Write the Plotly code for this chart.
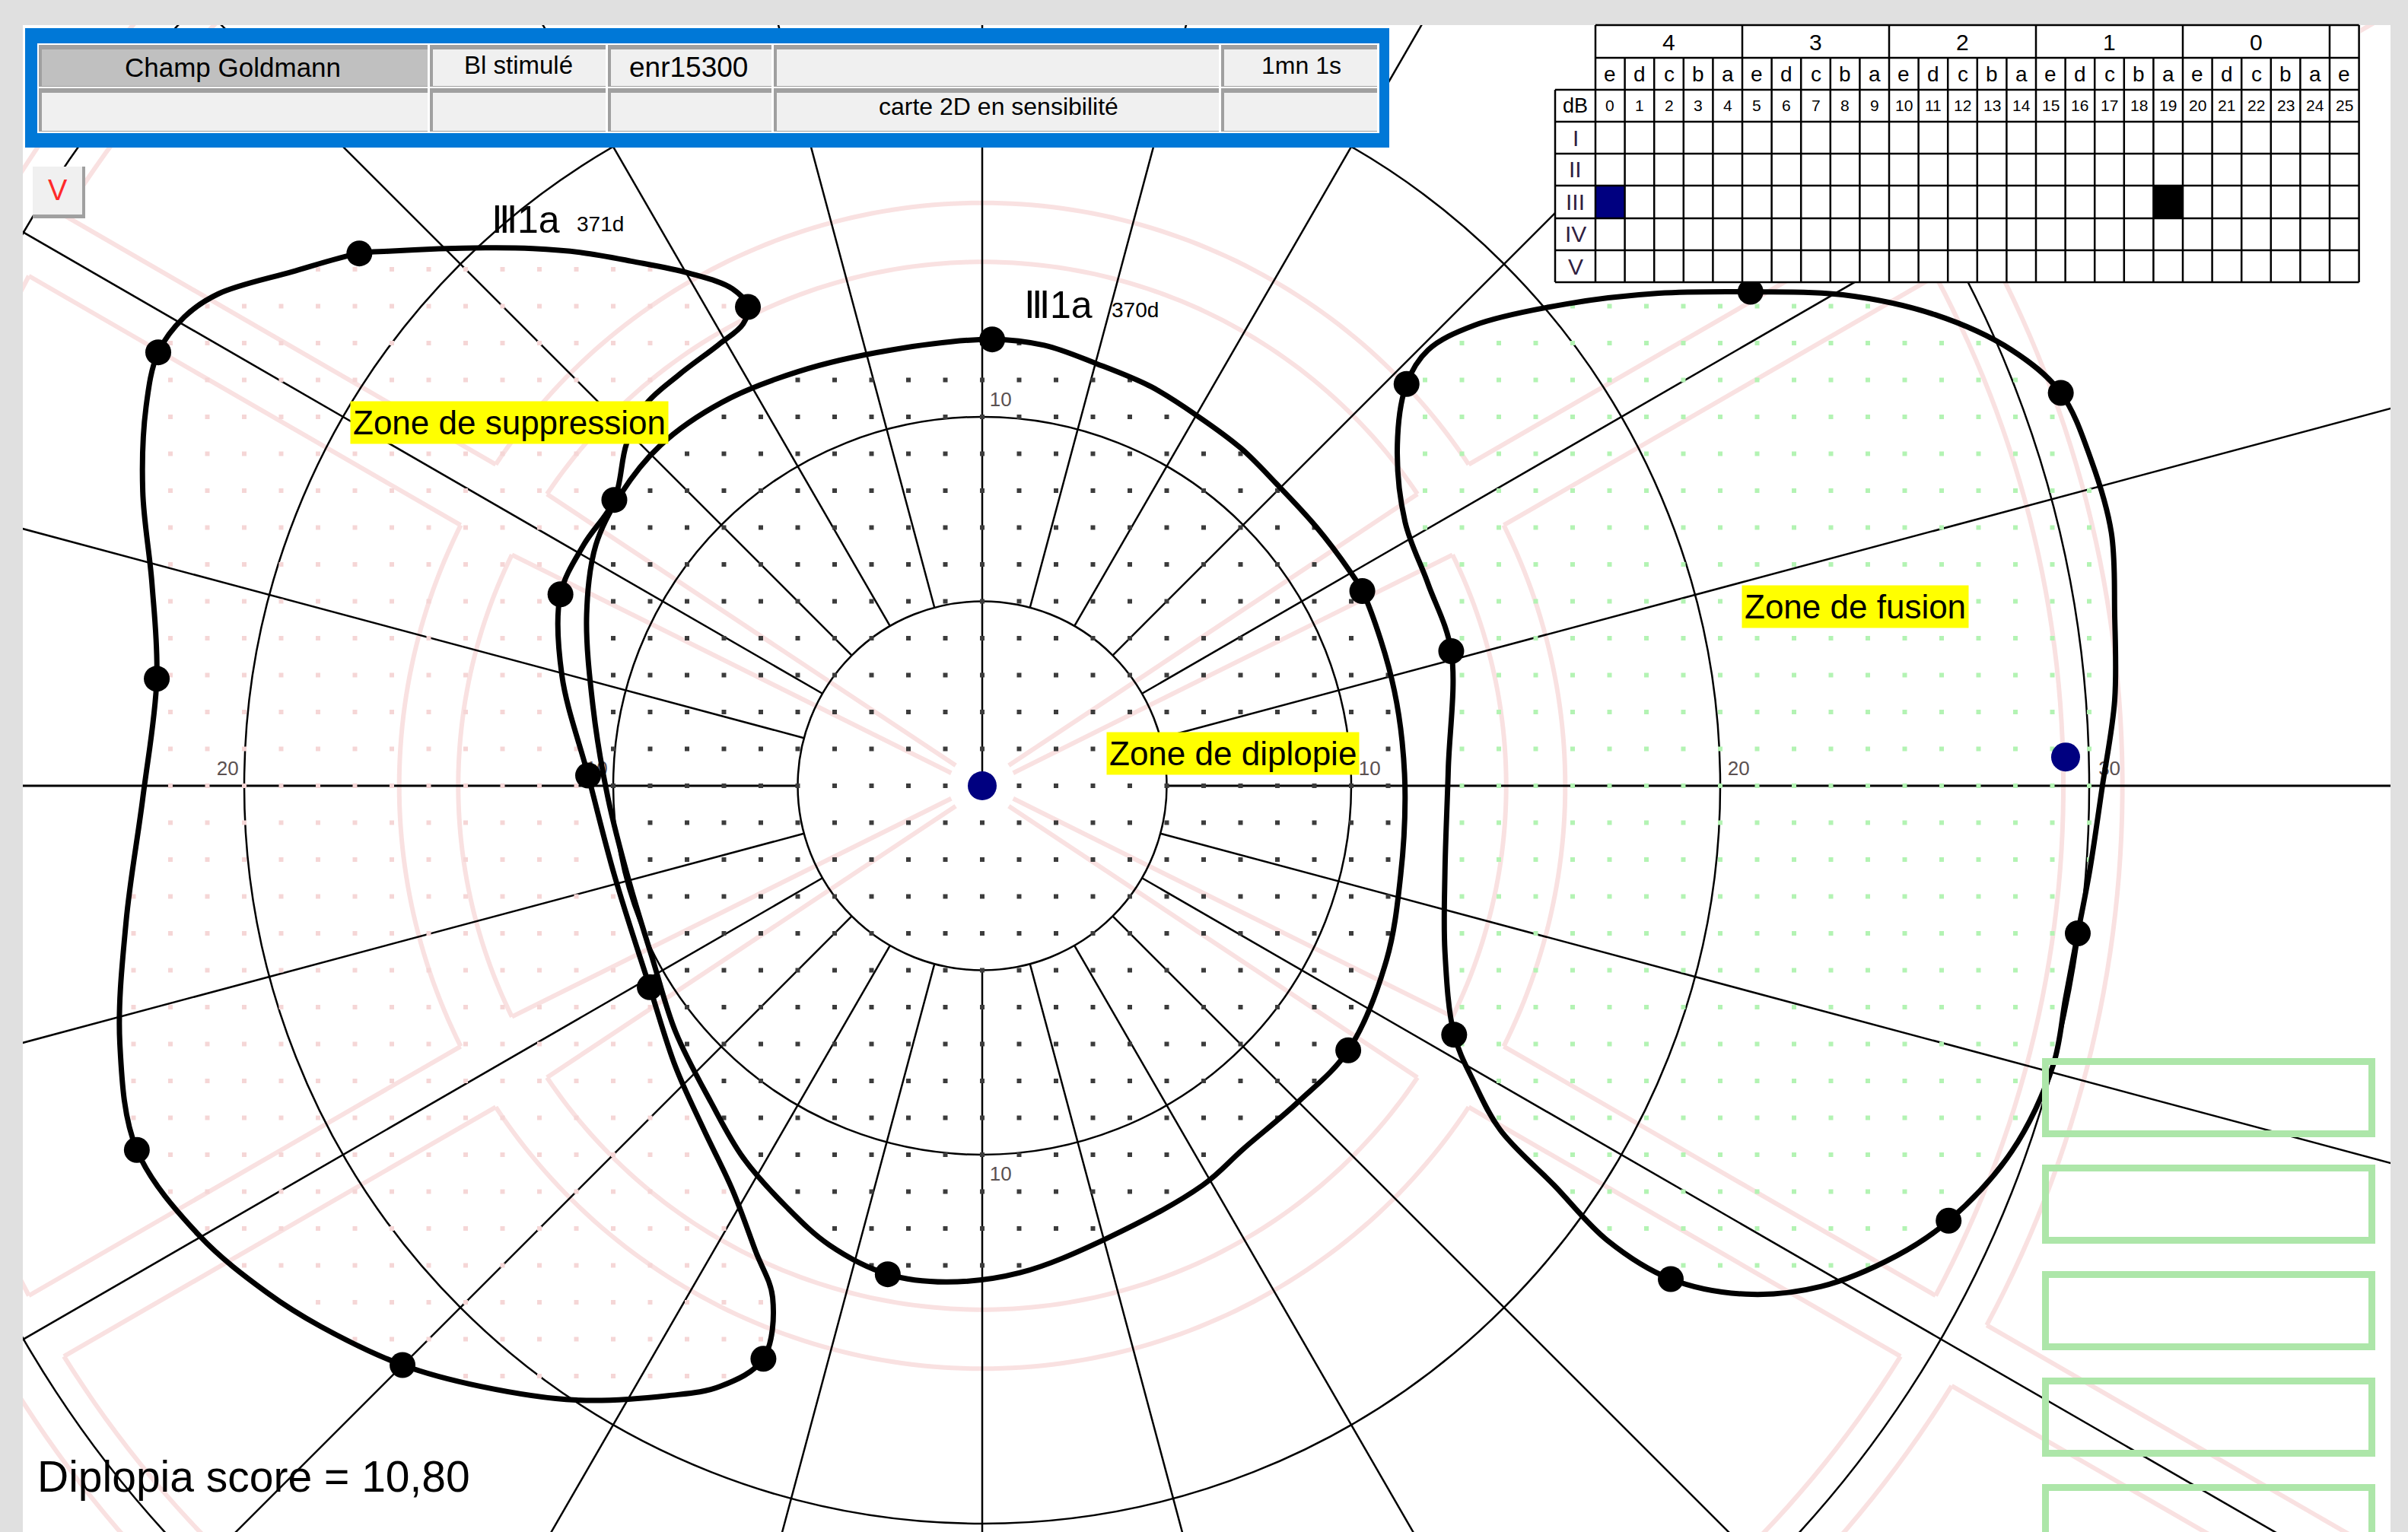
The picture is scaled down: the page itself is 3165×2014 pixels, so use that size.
import numpy as np
import plotly.graph_objects as go

# ---------------------------------------------------------------------------
# Page geometry (pixels) and chart scale
# ---------------------------------------------------------------------------
FIG_W, FIG_H = 3165, 2014
PLOT_L, PLOT_T, PLOT_R, PLOT_B = 30, 33, 3142, 2014
FIX_X, FIX_Y = 1291, 1033          # fixation point on the page
PX_PER_DEG = 48.5
FONT = "Liberation Sans, Arial, sans-serif"

# ---------------------------------------------------------------------------
# Data (degrees of eccentricity, x = horizontal, y = vertical)
# ---------------------------------------------------------------------------
# Isopter III1a 370d - zone de diplopie: traced outline
diplo_x = [0.27, 1.68, 3.10, 4.59, 5.84, 7.01, 7.97, 9.05, 9.96, 10.30, 10.80, 11.17, 11.38,
           11.46, 11.34, 10.96, 9.92, 8.55, 7.09, 5.97, 3.35, 1.02, -0.98, -2.56, -4.14,
           -5.31, -6.48, -7.35, -8.31, -8.93, -9.56, -10.14, -10.55, -10.72, -10.47, -9.80,
           -8.72, -7.06, -4.98, -2.48]
diplo_y = [12.10, 11.94, 11.44, 10.81, 10.02, 9.15, 8.19, 7.02, 5.82, 5.28, 3.95, 2.57, 1.20,
           -0.34, -2.42, -4.71, -7.17, -8.58, -9.83, -10.83, -12.28, -13.20, -13.45, -13.24,
           -12.45, -11.41, -10.08, -8.58, -6.67, -4.71, -2.63, -0.34, 2.16, 4.65, 6.53, 7.90,
           9.23, 10.39, 11.23, 11.81]
# measured points of the 370d isopter
diplo_pts_x = [0.27, 10.30, 9.92, -2.56]
diplo_pts_y = [12.10, 5.28, -7.17, -13.24]

# Isopter III1a 371d - zone de suppression: traced outline
supp_x = [-16.88, -16.09, -13.47, -12.18, -10.84, -9.51, -7.93, -6.77, -6.35, -6.48, -7.14,
          -8.22, -9.14, -9.64, -9.97, -10.80, -11.43, -11.39, -10.68, -9.97, -9.01, -8.31,
          -7.56, -6.77, -6.14, -5.68, -5.93, -7.10, -8.51, -11.01, -13.59, -15.71, -17.92,
          -19.38, -21.21, -22.91, -23.37, -23.20, -22.75, -22.37, -22.50, -22.75, -22.66,
          -22.33, -21.62, -20.71, -18.71]
supp_y = [14.43, 14.49, 14.58, 14.56, 14.45, 14.22, 13.89, 13.47, 12.98, 12.52, 11.96,
          11.14, 10.31, 9.27, 7.75, 6.53, 5.19, 2.99, 0.28, -2.42, -5.46, -7.62, -9.29,
          -10.95, -12.62, -13.87, -15.53, -16.28, -16.53, -16.65, -16.28, -15.70, -14.66,
          -13.74, -12.20, -9.87, -7.00, -3.67, -0.34, 2.90, 5.48, 7.98, 10.27, 11.75, 12.71,
          13.33, 13.93]
supp_pts_x = [-16.88, -6.35, -9.97, -11.43, -10.68, -9.01, -5.93, -15.71, -22.91, -22.37, -22.33]
supp_pts_y = [14.43, 12.98, 7.75, 5.19, 0.28, -5.46, -15.53, -15.70, -9.87, 2.90, 11.75]

# Zone de fusion: traced outline
fus_x = [11.50, 12.08, 13.33, 15.83, 18.33, 20.82, 23.32, 25.82, 27.90, 29.23, 30.06, 30.60,
         30.69, 30.69, 30.35, 30.02, 29.69, 29.36, 29.02, 27.90, 26.19, 24.78, 22.74, 20.70,
         18.66, 16.95, 15.50, 14.04, 13.33, 12.79, 12.54, 12.54, 12.63, 12.71, 12.08, 11.46,
         11.25]
fus_y = [10.89, 11.81, 12.48, 13.06, 13.35, 13.39, 13.31, 12.77, 11.81, 10.65, 8.81, 6.86,
         4.65, 2.32, -0.05, -2.26, -4.00, -5.75, -7.58, -9.91, -11.79, -12.74, -13.57, -13.78,
         -13.37, -12.33, -10.83, -9.33, -8.04, -6.75, -4.50, -2.34, 0.45, 3.65, 5.48, 7.15,
         9.23]
fus_pts_x = [11.50, 20.82, 29.23, 29.69, 26.19, 18.66, 12.79, 12.71]
fus_pts_y = [10.89, 13.39, 10.65, -4.00, -11.79, -13.37, -6.75, 3.65]

# fixation targets
fix_x = [0.0, 29.36]
fix_y = [0.0, 0.78]

# polar grid
ring_deg = [5, 10, 20, 30]
meridian_step = 15

# background road pattern (pink)
pink_ring_roads = [(14.2, 15.8), (29.3, 30.9)]
pink_radial_deg = [30, 150, 210, 330]
pink_half_width = 0.95

# zone labels (centre, degrees)
zone_text = ["Zone de suppression", "Zone de diplopie", "Zone de fusion"]
zone_x = [-12.82, 6.80, 23.65]
zone_y = [9.84, 0.88, 4.86]

# stimulus table
table_groups = ["4", "3", "2", "1", "0"]
table_letters = list("edcbaedcbaedcbaedcbaedcbae")
table_db = [str(i) for i in range(26)]
table_rows = ["I", "II", "III", "IV", "V"]

header_row1 = ["Champ Goldmann", "Bl stimulé", "enr15300", "", "1mn 1s"]
header_row2 = ["", "", "", "carte 2D en sensibilité", ""]
score_text = "Diplopia score = 10,80"

# ---------------------------------------------------------------------------
# Helpers
# ---------------------------------------------------------------------------
x_range = [(PLOT_L - FIX_X) / PX_PER_DEG, (PLOT_R - FIX_X) / PX_PER_DEG]
y_range = [(FIX_Y - PLOT_B) / PX_PER_DEG, (FIX_Y - PLOT_T) / PX_PER_DEG]


def pxp(x):
    return (x - PLOT_L) / (PLOT_R - PLOT_L)


def pyp(y):
    return 1 - (y - PLOT_T) / (PLOT_B - PLOT_T)


def inside(px, py, vx, vy):
    vx = np.asarray(vx, float)
    vy = np.asarray(vy, float)
    res = np.zeros(px.shape, bool)
    j = len(vx) - 1
    for i in range(len(vx)):
        xi, yi, xj, yj = vx[i], vy[i], vx[j], vy[j]
        crosses = (yi > py) != (yj > py)
        xcross = (xj - xi) * (py - yi) / ((yj - yi) if yj != yi else 1e-12) + xi
        res ^= crosses & (px < xcross)
        j = i
    return res


shapes = []
annotations = []


def rect(x0, y0, x1, y1, fill, layer="above", line_color=None, width=0):
    shapes.append(dict(type="rect", xref="paper", yref="paper",
                       x0=pxp(x0), x1=pxp(x1), y0=pyp(y1), y1=pyp(y0),
                       fillcolor=fill, layer=layer,
                       line=dict(width=width, color=line_color or fill)))


def pline(x0, y0, x1, y1, color="black", width=2.5):
    shapes.append(dict(type="line", xref="paper", yref="paper",
                       x0=pxp(x0), x1=pxp(x1), y0=pyp(y0), y1=pyp(y1),
                       layer="above", line=dict(color=color, width=width)))


def ptext(x, y, s, size, color="black", xanchor="center", family=FONT):
    annotations.append(dict(xref="paper", yref="paper", x=pxp(x), y=pyp(y), text=s,
                            showarrow=False, xanchor=xanchor, yanchor="middle",
                            font=dict(size=size, color=color, family=family)))


def data_path(xs, ys, color, width):
    d = "M " + " L ".join(f"{x:.4f},{y:.4f}" for x, y in zip(xs, ys))
    shapes.append(dict(type="path", xref="x", yref="y", path=d, layer="below",
                       line=dict(color=color, width=width)))


# ---------------------------------------------------------------------------
# Background pattern (pink double-lined roads) and polar grid
# ---------------------------------------------------------------------------
PINK = "#f9e1e1"
w = pink_half_width
ring_edges = sorted(r for road in pink_ring_roads for r in road)

# radial roads: two parallel lines, interrupted where they cross the ring roads
for a in pink_radial_deg:
    t = np.radians(a)
    u = np.array([np.cos(t), np.sin(t)])
    n = np.array([-np.sin(t), np.cos(t)])
    for s in (-1, 1):
        cuts = [np.sqrt(r * r - w * w) for r in ring_edges]
        # inner part narrows towards the fixation point
        p0 = 0.9 * u + s * 0.12 * n
        p1 = cuts[0] * u + s * w * n
        data_path([p0[0], p1[0]], [p0[1], p1[1]], PINK, 6)
        spans = [(cuts[1], cuts[2]), (cuts[3], 60.0)]
        for t0, t1 in spans:
            q0 = t0 * u + s * w * n
            q1 = t1 * u + s * w * n
            data_path([q0[0], q1[0]], [q0[1], q1[1]], PINK, 6)

# ring roads: circles broken at each radial road
angs = sorted(pink_radial_deg)
for r in ring_edges:
    d = np.degrees(np.arcsin(w / r))
    for k in range(len(angs)):
        a0 = angs[k] + d
        a1 = angs[(k + 1) % len(angs)] - d
        if a1 < a0:
            a1 += 360
        th = np.radians(np.linspace(a0, a1, int(a1 - a0) + 2))
        data_path(r * np.cos(th), r * np.sin(th), PINK, 6)

for r in ring_deg:
    shapes.append(dict(type="circle", xref="x", yref="y", x0=-r, y0=-r, x1=r, y1=r,
                       layer="below", line=dict(color="black", width=2.5)))
for a in range(0, 360, meridian_step):
    t = np.radians(a)
    r0 = 0 if a == 90 else ring_deg[0]
    shapes.append(dict(type="line", xref="x", yref="y",
                       x0=r0 * np.cos(t), y0=r0 * np.sin(t),
                       x1=60 * np.cos(t), y1=60 * np.sin(t),
                       layer="below",
                       line=dict(color="black", width=3 if a in (0, 180) else 2.5)))

# ---------------------------------------------------------------------------
# Traces
# ---------------------------------------------------------------------------
fig = go.Figure()

gx, gy = np.meshgrid(np.arange(-26, 39), np.arange(-20, 21))
gx = gx.ravel().astype(float)
gy = gy.ravel().astype(float)
in_d = inside(gx, gy, diplo_x, diplo_y)
in_s = inside(gx, gy, supp_x, supp_y) & ~in_d
in_f = inside(gx, gy, fus_x, fus_y)

for mask, col in [(in_s, "#f5d6d6"), (in_f, "#b3f3b3"), (in_d, "#3c3c3c")]:
    fig.add_trace(go.Scatter(x=gx[mask], y=gy[mask], mode="markers", hoverinfo="skip",
                             marker=dict(symbol="square", size=6, color=col, line=dict(width=0))))

# ring values
lab_x = [10.2, 20.2, 30.25, -20.15, -10.15, 0.2, 0.2]
lab_y = [0.15, 0.15, 0.15, 0.15, 0.15, 10.15, -10.3]
lab_t = ["10", "20", "30", "20", "10", "10", "10"]
lab_pos = ["top right"] * 3 + ["top left"] * 2 + ["top right", "bottom right"]
fig.add_trace(go.Scatter(x=lab_x, y=lab_y, text=lab_t, mode="text", textposition=lab_pos,
                         hoverinfo="skip",
                         textfont=dict(size=26, color="#5a5050", family=FONT)))

for cx, cy in [(supp_x, supp_y), (diplo_x, diplo_y), (fus_x, fus_y)]:
    fig.add_trace(go.Scatter(x=list(cx) + [cx[0]], y=list(cy) + [cy[0]], mode="lines",
                             hoverinfo="skip",
                             line=dict(color="black", width=7, shape="spline", smoothing=1.0)))
for px_, py_ in [(supp_pts_x, supp_pts_y), (diplo_pts_x, diplo_pts_y), (fus_pts_x, fus_pts_y)]:
    fig.add_trace(go.Scatter(x=px_, y=py_, mode="markers", hoverinfo="skip",
                             marker=dict(size=34, color="black")))

fig.add_trace(go.Scatter(x=fix_x, y=fix_y, mode="markers", hoverinfo="skip",
                         marker=dict(size=38, color="#000080")))

# ---------------------------------------------------------------------------
# Text on the chart
# ---------------------------------------------------------------------------
for t, x, y in zip(zone_text, zone_x, zone_y):
    annotations.append(dict(x=x, y=y, xref="x", yref="y", text=t, showarrow=False,
                            bgcolor="#ffff00", borderpad=3,
                            font=dict(size=44, color="black", family=FONT)))

ptext(644, 289, "Ⅲ1a", 50, xanchor="left")
ptext(756, 295, "371d", 28, xanchor="left")
ptext(1344, 401, "Ⅲ1a", 50, xanchor="left")
ptext(1459, 408, "370d", 28, xanchor="left")
ptext(47, 1941, score_text, 57, xanchor="left")

# ---------------------------------------------------------------------------
# Header panel
# ---------------------------------------------------------------------------
rect(33, 37, 1826, 194, "#0078d7")
rect(49, 57, 1813, 175, "#ffffff")
cols = [(50, 564), (564, 798), (798, 1016), (1016, 1604), (1604, 1812)]
rows = [(59, 114), (116, 173)]
for ri, (y0, y1) in enumerate(rows):
    for ci, (x0, x1) in enumerate(cols):
        rect(x0 + 1, y0, x1 - 2, y1, "#a0a0a0")
        fill = "#c0c0c0" if (ri == 0 and ci == 0) else "#f0f0f0"
        rect(x0 + 5, y0 + 6, x1 - 2, y1 - 1, fill)
ptext(306, 89, header_row1[0], 35)
ptext(681, 85, header_row1[1], 33)
ptext(905, 89, header_row1[2], 37)
ptext(1710, 86, header_row1[4], 32)
ptext(1312, 140, header_row2[3], 32)

# button
rect(43, 219, 112, 287, "#a0a0a0")
rect(43, 219, 108, 282, "#f0f0f0")
ptext(76, 250, "V", 38, color="#ff2a2a")

# ---------------------------------------------------------------------------
# Stimulus table (top right)
# ---------------------------------------------------------------------------
TX0, LX0, CW = 2097, 2044, 38.6
TX1 = TX0 + 26 * CW
row_y = [33, 76, 118, 160, 202, 244, 287, 329, 371]
rect(LX0, 33, TX1 + 2, 372, "#ffffff")
rect(TX0, row_y[5], TX0 + CW, row_y[6], "#000080")
rect(TX0 + 19 * CW, row_y[5], TX0 + 20 * CW, row_y[6], "#000000")
for i, y in enumerate(row_y):
    pline(TX0 if i < 2 else LX0, y, TX1, y, width=2.5)
pline(LX0, row_y[2], LX0, row_y[-1], width=2.5)
for k in range(27):
    x = TX0 + k * CW
    top = row_y[0] if (k % 5 == 0 or k == 26) else row_y[1]
    pline(x, top, x, row_y[-1], width=2.5)
for g, lab in enumerate(table_groups):
    ptext(TX0 + (g * 5 + 2.5) * CW, 55, lab, 30)
for k in range(26):
    ptext(TX0 + (k + 0.5) * CW, 98, table_letters[k], 28)
    ptext(TX0 + (k + 0.5) * CW, 139, table_db[k], 21)
ptext((LX0 + TX0) / 2, 139, "dB", 27)
for i, lab in enumerate(table_rows):
    ptext((LX0 + TX0) / 2, (row_y[3 + i] + row_y[4 + i]) / 2, lab, 30, color="#302040")

# ---------------------------------------------------------------------------
# Empty result boxes (bottom right)
# ---------------------------------------------------------------------------
for top in [1391, 1531, 1671, 1811, 1951]:
    shapes.append(dict(type="rect", xref="paper", yref="paper",
                       x0=pxp(2688.5), x1=pxp(3117.5), y0=pyp(top + 99.5), y1=pyp(top + 4.5),
                       layer="above", fillcolor="rgba(0,0,0,0)",
                       line=dict(color="#ade6a9", width=9)))

fig.update_layout(
    width=FIG_W, height=FIG_H,
    margin=dict(l=PLOT_L, r=FIG_W - PLOT_R, t=PLOT_T, b=FIG_H - PLOT_B, pad=0),
    paper_bgcolor="#e0e0e0", plot_bgcolor="#ffffff",
    showlegend=False,
    xaxis=dict(range=x_range, visible=False, showgrid=False, zeroline=False),
    yaxis=dict(range=y_range, visible=False, showgrid=False, zeroline=False),
    shapes=shapes, annotations=annotations,
)

fig.write_html("out.html", include_plotlyjs=True, config={"displayModeBar": False})
